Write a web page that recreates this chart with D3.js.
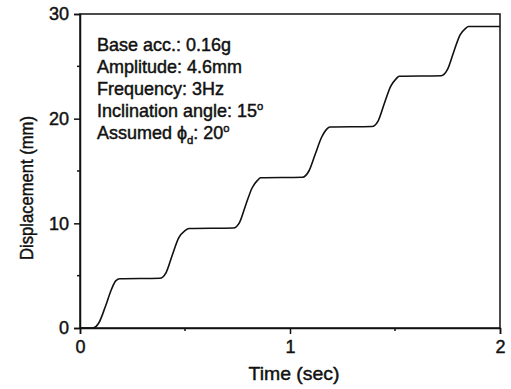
<!DOCTYPE html>
<html>
<head>
<meta charset="utf-8">
<script src="https://cdn.jsdelivr.net/npm/d3@7"></script>
<style>
  body { margin: 0; background: #fff; }
  svg { display: block; font-family: "Liberation Sans", Arial, sans-serif; }
  text { stroke: #111; stroke-width: 0.45px; }
</style>
</head>
<body>
<svg id="chart" width="511" height="389"></svg>
<script>
// values
const time = [0, 0.06, 0.09, 0.12, 0.15, 0.17, 0.19,
  0.38, 0.41, 0.44, 0.47, 0.50, 0.52,
  0.73, 0.76, 0.79, 0.82, 0.845, 0.86,
  1.06, 1.09, 1.12, 1.15, 1.175, 1.19,
  1.39, 1.42, 1.45, 1.48, 1.505, 1.52,
  1.72, 1.75, 1.78, 1.81, 1.835, 1.85, 2.0]
const displacement = [0, 0, 0.5, 2.0, 3.7, 4.5, 4.7,
  4.75, 5.3, 7.0, 8.6, 9.3, 9.5,
  9.55, 10.1, 11.8, 13.4, 14.1, 14.35,
  14.4, 15.0, 16.6, 18.2, 19.0, 19.2,
  19.25, 19.8, 21.5, 23.1, 23.8, 24.05,
  24.1, 24.7, 26.4, 28.0, 28.6, 28.8, 28.8]
const xTicks = [0, 1, 2]
const xMinor = [0.5, 1.5]
const yTicks = [0, 10, 20, 30]
const yMinor = [5, 15, 25]
const notes = ["Base acc.: 0.16g", "Amplitude: 4.6mm", "Frequency: 3Hz", "Inclination angle: 15", "Assumed "]

const svg = d3.select("#chart")
const margin = { top: 14, right: 11, bottom: 61, left: 80 }
const W = 511, H = 389
const ink = "#111"
const x = d3.scaleLinear().domain([0, 2]).range([margin.left, W - margin.right])
const y = d3.scaleLinear().domain([0, 30]).range([H - margin.bottom, margin.top])

const data = time.map((t, i) => ({ t: t, d: displacement[i] }))

// frame
svg.append("rect")
  .attr("x", x(0)).attr("y", y(30))
  .attr("width", x(2) - x(0)).attr("height", y(0) - y(30))
  .attr("fill", "none").attr("stroke", ink).attr("stroke-width", 1.5)

// axes
const xAxis = svg.append("g").attr("transform", "translate(0," + y(0) + ")")
  .call(d3.axisBottom(x).tickValues(xTicks).tickSize(6).tickFormat(d3.format("d")))
xAxis.append("g").selectAll("line").data(xMinor).join("line")
  .attr("x1", d => x(d)).attr("x2", d => x(d)).attr("y1", 0).attr("y2", 3)

const yAxis = svg.append("g").attr("transform", "translate(" + x(0) + ",0)")
  .call(d3.axisLeft(y).tickValues(yTicks).tickSize(6).tickFormat(d3.format("d")))
yAxis.append("g").selectAll("line").data(yMinor).join("line")
  .attr("y1", d => y(d)).attr("y2", d => y(d)).attr("x1", 0).attr("x2", -3)

svg.selectAll(".domain").attr("stroke", ink).attr("stroke-width", 1.5)
svg.selectAll("g line").attr("stroke", ink).attr("stroke-width", 1.5)
svg.selectAll(".tick text")
  .attr("font-family", "Liberation Sans, Arial, sans-serif")
  .attr("font-size", 18).attr("fill", ink)
xAxis.selectAll(".tick text").attr("y", 25).attr("dy", null)
yAxis.selectAll(".tick text").attr("x", -11)

// curve
svg.append("path")
  .datum(data)
  .attr("fill", "none").attr("stroke", ink).attr("stroke-width", 1.6)
  .attr("d", d3.line().x(d => x(d.t)).y(d => y(d.d)).curve(d3.curveMonotoneX))

// axis titles
svg.append("text")
  .attr("x", 294).attr("y", 380)
  .attr("text-anchor", "middle").attr("font-size", 19).attr("fill", ink)
  .attr("textLength", 91).attr("lengthAdjust", "spacingAndGlyphs")
  .text("Time (sec)")

svg.append("text")
  .attr("transform", "translate(33,188) rotate(-90)")
  .attr("text-anchor", "middle").attr("font-size", 19).attr("fill", ink)
  .attr("textLength", 144).attr("lengthAdjust", "spacingAndGlyphs")
  .text("Displacement (mm)")

// annotation (the scan is stretched sideways, so widen the block to match)
const note = svg.append("g").attr("font-size", 17.5).attr("fill", ink)
notes.forEach((s, i) => {
  const t = note.append("text").attr("x", 0).attr("y", 51 + i * 22.1).text(s)
  if (i === 3) {
    t.append("tspan").attr("font-size", 11).attr("dy", -7).text("o")
  }
  if (i === 4) {
    t.append("tspan").text("\u03d5")
    t.append("tspan").attr("font-size", 11).attr("dy", 5).text("d")
    t.append("tspan").attr("dy", -5).text(": 20")
    t.append("tspan").attr("font-size", 11).attr("dy", -7).text("o")
  }
})
const firstW = note.select("text").node().getComputedTextLength()
const sx = firstW > 0 ? 134 / firstW : 1
note.attr("transform", "translate(97,0) scale(" + sx + ",1)")
</script>
</body>
</html>
